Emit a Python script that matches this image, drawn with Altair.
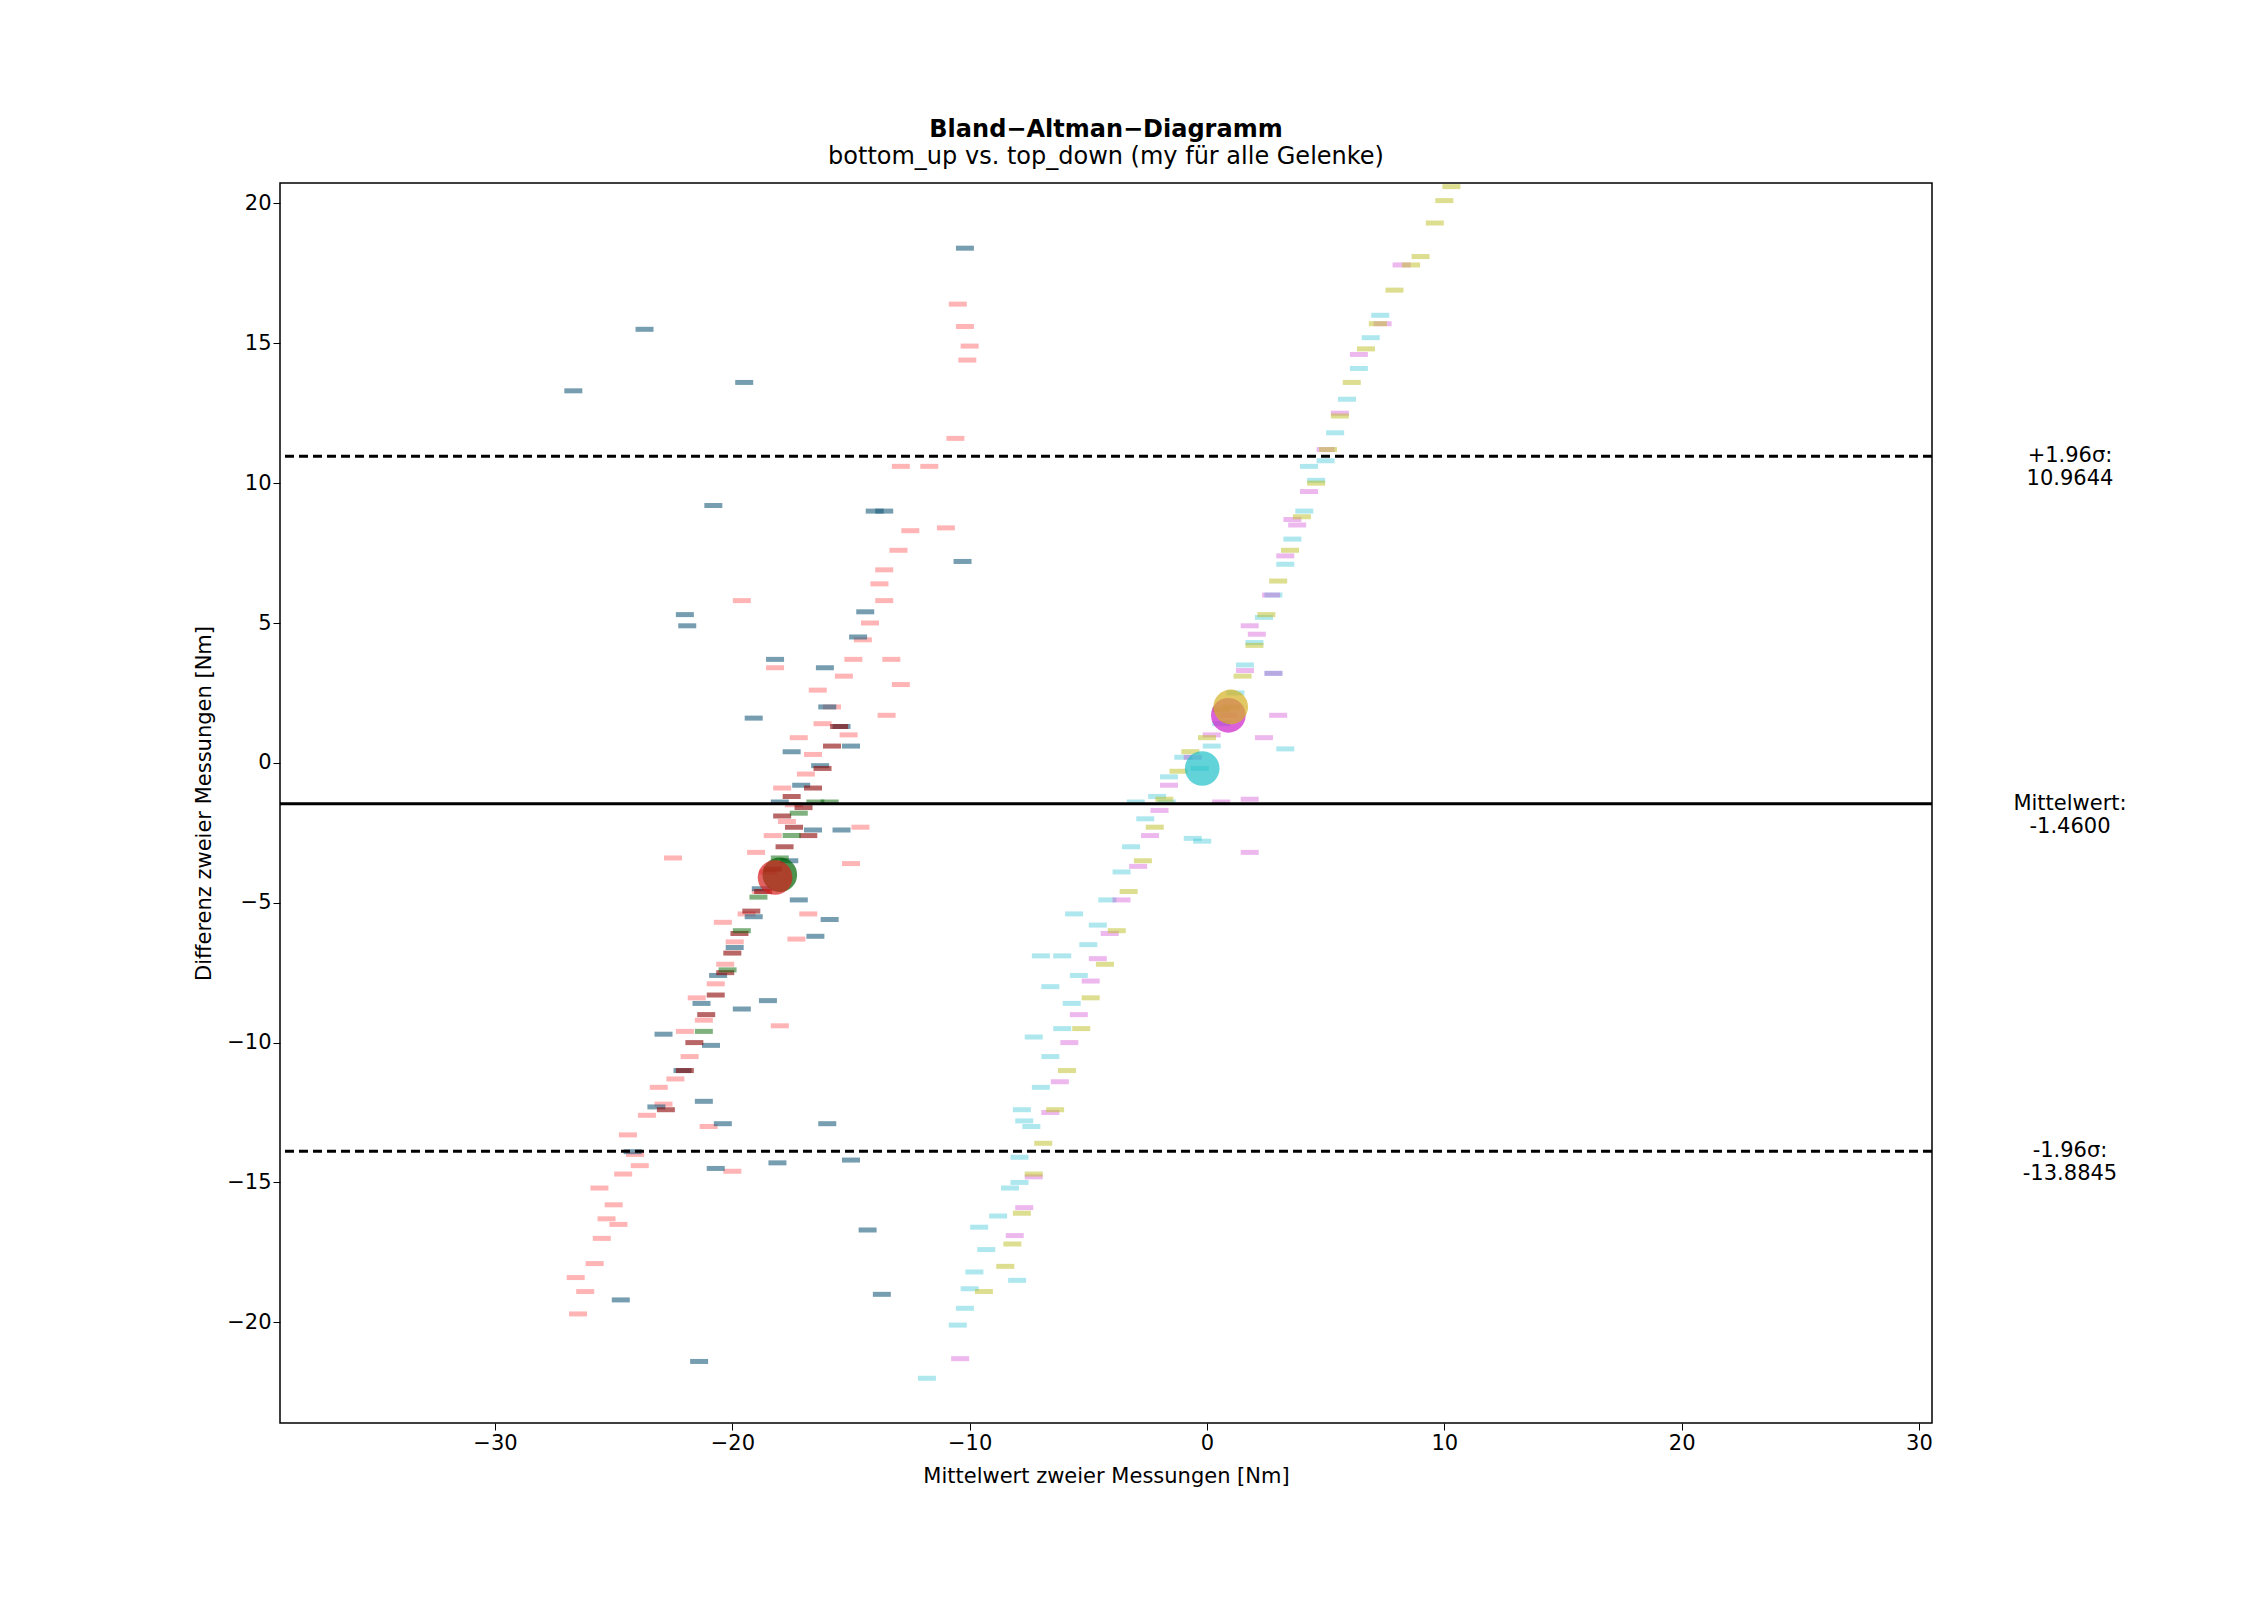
import altair as alt
import pandas as pd

# light red group (left cluster)
red_x = [-26.5, -26.6, -26.2, -25.8, -25.5, -25.3, -25.6, -25.0, -24.6, -24.1, -24.4, -23.6, -22.9, -22.4,
         -23.1, -21.8, -22.0, -21.2, -21.5, -20.7, -20.3, -19.9, -20.4, -19.4, -18.8, -18.5, -19.0, -18.3,
         -17.7, -17.4, -17.9, -16.9, -16.6, -17.2, -16.2, -15.8, -16.4, -15.3, -14.9, -14.5, -14.2, -13.6,
         -13.8, -13.0, -12.5, -22.5, -19.6, -18.2, -16.8, -14.6, -13.3, -15.1, -10.5, -10.2, -10.0, -10.1,
         -10.6, -12.9, -11.7, -11.0, -13.6, -24.8, -23.9, -20.0, -21.0, -17.3, -18.0, -15.0, -13.5, -12.9]
red_y = [-19.7, -18.4, -18.9, -17.9, -17.0, -16.3, -15.2, -15.8, -14.7, -14.0, -13.3, -12.6, -12.2, -11.3,
         -11.6, -10.5, -9.6, -9.2, -8.4, -7.9, -7.2, -6.4, -5.7, -5.4, -4.6, -3.9, -3.2, -2.6,
         -2.1, -1.5, -0.9, -0.4, 0.3, 0.9, 1.4, 2.0, 2.6, 3.1, 3.7, 4.4, 5.0, 5.8,
         6.4, 7.6, 8.3, -3.4, 5.8, 3.4, -5.4, -2.3, 3.7, 1.0, 16.4, 15.6, 14.9, 14.4,
         11.6, 10.6, 10.6, 8.4, 6.9, -16.5, -14.4, -14.6, -13.0, -6.3, -9.4, -3.6, 1.7, 2.8]

teal_x = [-24.2, -23.2, -22.1, -22.9, -21.3, -20.6, -19.9, -20.9, -19.6, -18.5, -19.1, -18.8, -17.2, -16.5,
          -15.9, -17.6, -16.6, -15.4, -18.0, -17.1, -16.3, -15.0, -15.4, -17.5, -16.0, -14.7, -14.4, -19.1,
          -18.2, -16.1, -21.2, -20.4, -26.7, -23.7, -19.5, -10.2, -20.8, -22.0, -21.9, -14.0, -13.6, -10.3,
          -21.4, -24.7, -13.7, -14.3, -18.1, -20.7, -16.0, -15.0]
teal_y = [-13.9, -12.3, -11.0, -9.7, -8.6, -7.6, -6.6, -10.1, -8.8, -8.5, -5.5, -4.5, -4.9, -6.2,
          -5.6, -3.5, -2.4, -2.4, -1.4, -0.8, -0.1, 0.6, 1.3, 0.4, 2.0, 4.5, 5.4, 1.6,
          3.7, 3.4, -12.1, -12.9, 13.3, 15.5, 13.6, 18.4, 9.2, 5.3, 4.9, 9.0, 9.0, 7.2,
          -21.4, -19.2, -19.0, -16.7, -14.3, -14.5, -12.9, -14.2]

darkred_x = [-22.8, -22.0, -21.6, -21.1, -20.7, -20.3, -20.0, -19.7, -19.2, -18.7, -18.3, -17.8, -17.4, -17.0,
             -16.6, -16.2, -15.8, -15.5, -17.5, -16.8, -17.9]
darkred_y = [-12.4, -11.0, -10.0, -9.0, -8.3, -7.5, -6.8, -6.1, -5.3, -4.6, -3.8, -3.0, -2.3, -1.6,
             -0.9, -0.2, 0.6, 1.3, -1.2, -2.6, -1.9]

green_x = [-21.2, -20.2, -19.6, -18.9, -18.0, -17.2, -16.5, -15.9, -17.5]
green_y = [-9.6, -7.4, -6.0, -4.8, -3.4, -1.8, -1.4, -1.4, -2.6]

cyan_x = [-10.2, -10.0, -9.8, -9.3, -9.6, -8.8, -8.3, -7.9, -7.4, -7.8, -7.0, -6.6, -7.3, -6.1, -5.7, -6.6,
          -5.4, -5.0, -6.1, -4.6, -4.2, -5.6, -3.6, -3.2, -2.6, -2.1, -3.0, -1.6, -1.0, -0.3, 0.2, 0.6,
          1.2, 1.6, 2.0, 2.4, 2.8, 3.3, 3.6, 4.1, 4.6, 5.0, 5.4, 5.9, 6.4, 6.9, 7.3, -11.8, -8.0, -10.5,
          -7.0, -0.6, -0.2, 2.8, 3.3, -1.7, 4.3, -7.7, -7.9]
cyan_y = [-19.5, -18.8, -18.2, -17.4, -16.6, -16.2, -15.2, -14.1, -13.0, -12.4, -11.6, -10.5, -9.8, -9.5,
          -8.6, -8.0, -7.6, -6.5, -6.9, -5.8, -4.9, -5.4, -3.9, -3.0, -2.0, -1.2, -1.4, -0.5, 0.2, -0.2,
          0.6, 1.4, 2.5, 3.5, 4.3, 5.2, 6.0, 7.1, 8.0, 9.0, 10.1, 10.8, 11.8, 13.0, 14.1, 15.2, 16.0,
          -22.0, -18.5, -20.1, -6.9, -2.7, -2.8, 3.2, 0.5, -1.4, 10.6, -12.8, -15.0]

magenta_x = [-8.1, -7.7, -7.3, -6.6, -6.2, -5.8, -5.4, -4.9, -4.6, -4.1, -3.6, -2.9, -2.4, -2.0, -1.6, -0.6,
             0.2, 0.9, 1.6, 2.1, 2.7, 3.3, 3.8, 4.3, 5.0, 5.6, 6.4, 7.4, 8.2, -10.4, 2.4, 1.8, 3.0, 1.8,
             3.6, 0.6, 2.8, 1.8]
magenta_y = [-16.9, -15.9, -14.8, -12.5, -11.4, -10.0, -9.0, -7.8, -7.0, -6.1, -4.9, -3.7, -2.6, -1.7,
             -0.8, 0.2, 1.0, 1.7, 3.3, 4.6, 6.0, 7.4, 8.5, 9.7, 11.2, 12.5, 14.6, 15.7, 17.8, -21.3, 0.9,
             4.9, 1.7, -1.3, 8.7, -1.4, 3.2, -3.2]

olive_x = [-8.5, -8.2, -7.8, -7.3, -6.9, -6.4, -5.9, -5.3, -4.9, -4.3, -3.8, -3.3, -2.7, -2.2, -1.8, -1.2,
           -0.7, 0.0, 0.6, 1.0, 1.5, 2.0, 2.5, 3.0, 3.5, 4.0, 4.6, 5.1, 5.6, 6.1, 6.7, 7.2, 7.9, 8.6, 9.0,
           9.6, 10.0, 10.3, -9.4]
olive_y = [-18.0, -17.2, -16.1, -14.7, -13.6, -12.4, -11.0, -9.5, -8.4, -7.2, -6.0, -4.6, -3.5, -2.3,
           -1.3, -0.3, 0.4, 0.9, 1.9, 2.0, 3.1, 4.2, 5.3, 6.5, 7.6, 8.8, 10.0, 11.2, 12.4, 13.6, 14.8,
           15.7, 16.9, 17.8, 18.1, 19.3, 20.1, 20.6, -18.9]

# group means (large circles)
mean_x = [-18.0, -18.2, -0.2, 0.9, 1.0]
mean_y = [-4.0, -4.1, -0.2, 1.7, 2.0]
mean_color = ["#006400", "#d62020", "#20c0c8", "#cc20cc", "#d4b020"]

line_y = [10.9644, -1.4600, -13.8845]
line_dash = ["dashed", "solid", "dashed"]
line_label = ["+1.96σ:\n10.9644", "Mittelwert:\n-1.4600", "-1.96σ:\n-13.8845"]

groups = [
    (red_x, red_y, "#ff5a5a", 0.45),
    (teal_x, teal_y, "#1b5e7b", 0.6),
    (darkred_x, darkred_y, "#8b0000", 0.6),
    (green_x, green_y, "#006400", 0.5),
    (cyan_x, cyan_y, "#17becf", 0.35),
    (magenta_x, magenta_y, "#cc33cc", 0.35),
    (olive_x, olive_y, "#bcbd22", 0.5),
]

xs = alt.Scale(domain=[-39.06, 30.55], nice=False, zero=False)
ys = alt.Scale(domain=[-23.6, 20.73], nice=False, zero=False)
minus = "replace(datum.label, '-', '−')"
x_enc = alt.X("x:Q", scale=xs, title="Mittelwert zweier Messungen [Nm]",
              axis=alt.Axis(values=[-30, -20, -10, 0, 10, 20, 30], labelExpr=minus, grid=False))
y_enc = alt.Y("y:Q", scale=ys, title="Differenz zweier Messungen [Nm]",
              axis=alt.Axis(values=[-20, -15, -10, -5, 0, 5, 10, 15, 20], labelExpr=minus, grid=False))

layers = []
for gx, gy, col, op in groups:
    df = pd.DataFrame({"x": gx, "y": gy})
    layers.append(
        alt.Chart(df).mark_tick(orient="horizontal", size=18, thickness=5, color=col, opacity=op)
        .encode(x=x_enc, y=y_enc)
    )

means = pd.DataFrame({"x": mean_x, "y": mean_y, "c": mean_color})
layers.append(
    alt.Chart(means).mark_circle(size=1200, opacity=0.7)
    .encode(x=x_enc, y=y_enc, color=alt.Color("c:N", scale=None))
)

lines = pd.DataFrame({"y": line_y, "dash": line_dash, "label": line_label})
layers.append(
    alt.Chart(lines).mark_rule(color="black", strokeWidth=3)
    .encode(y=y_enc, strokeDash=alt.StrokeDash("dash:N", scale=alt.Scale(
        domain=["dashed", "solid"], range=[[9, 5], [1, 0]]), legend=None))
)
layers.append(
    alt.Chart(lines).mark_text(lineBreak="\n", align="center", baseline="middle", fontSize=21,
                               font="DejaVu Sans", clip=False, color="black")
    .encode(x=alt.value(1790), y=y_enc, text="label:N")
)

chart = (
    alt.layer(*layers)
    .properties(
        width=1652, height=1240,
        title=alt.Title("Bland−Altman−Diagramm",
                        subtitle="bottom_up vs. top_down (my für alle Gelenke)",
                        fontSize=24, fontWeight="bold", subtitleFontSize=24, font="DejaVu Sans",
                        subtitleFont="DejaVu Sans", color="black", subtitleColor="black",
                        anchor="middle", offset=14),
        padding={"left": 185, "top": 110, "right": 20, "bottom": 20},
    )
    .configure_view(stroke="black", strokeWidth=1.5)
    .configure_axis(labelFont="DejaVu Sans", titleFont="DejaVu Sans", labelFontSize=21,
                    titleFontSize=21, titleFontWeight="normal", labelColor="black",
                    titleColor="black", domainColor="black", tickColor="black", tickSize=7,
                    domain=False, titlePadding=12)
)

chart.save("out.html", embed_options={"renderer": "svg", "actions": False})
